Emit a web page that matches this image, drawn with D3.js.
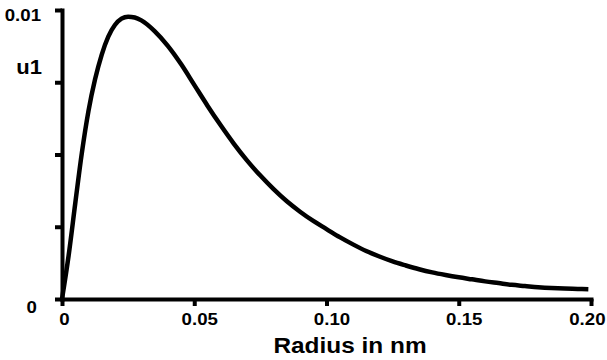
<!DOCTYPE html>
<html>
<head>
<meta charset="utf-8">
<script src="https://cdn.jsdelivr.net/npm/d3@7/dist/d3.min.js"></script>
<style>
  html, body { margin: 0; padding: 0; background: #fff; }
  svg { display: block; }
  text { font-family: "Liberation Sans", Arial, Helvetica, sans-serif; font-weight: bold; fill: #000; }
</style>
</head>
<body>
<svg id="chart" width="607" height="360"></svg>
<script>
// Data
const radius = [0, 0.0025, 0.005, 0.0075, 0.01, 0.0125, 0.015, 0.0175, 0.02, 0.0225, 0.025, 0.0275, 0.03, 0.035, 0.04, 0.045,
  0.05, 0.055, 0.06, 0.065, 0.07, 0.075, 0.08, 0.085, 0.09, 0.095,
  0.10, 0.105, 0.11, 0.115, 0.12, 0.125, 0.13, 0.135, 0.14, 0.145,
  0.15, 0.155, 0.16, 0.165, 0.17, 0.175, 0.18, 0.185, 0.19, 0.195, 0.199];
const u1 = [0, 0.00150, 0.00330, 0.00505, 0.00650, 0.00760, 0.00845, 0.00908, 0.00948, 0.00970, 0.00977, 0.00974, 0.00964, 0.00927, 0.00876, 0.00813,
  0.00741, 0.00669, 0.00601, 0.00537, 0.00479, 0.00427, 0.00380, 0.00338, 0.00302, 0.00270,
  0.00242, 0.00214, 0.00189, 0.00166, 0.00147, 0.00130, 0.00116, 0.00103, 0.00092, 0.00083,
  0.00075, 0.00068, 0.00061, 0.00055, 0.00049, 0.00045, 0.00041, 0.00038, 0.00036, 0.00035, 0.00034];
const xTicks = [0, 0.05, 0.10, 0.15, 0.20];
const xTickLabels = ["0", "0.05", "0.10", "0.15", "0.20"];
const yTicks = [0, 0.0025, 0.005, 0.0075, 0.01];
const yTickLabels = ["0", "", "", "", "0.01"];
const xTitle = "Radius in nm";
const yTitle = "u1";

const svg = d3.select("#chart");
svg.append("rect").attr("width", 607).attr("height", 360).attr("fill", "#fff");

const x = d3.scaleLinear().domain([0, 0.2]).range([62, 591]);
const y = d3.scaleLinear().domain([0, 0.01]).range([299, 10]);
const SX = 1.13; // horizontal stretch of the reference's bold font

// X axis
const gx = svg.append("g").attr("transform", `translate(0,${y(0)})`)
  .call(d3.axisBottom(x).tickValues(xTicks).tickSize(7).tickSizeOuter(0)
    .tickFormat((d, i) => xTickLabels[i]));
gx.select(".domain").attr("stroke-width", 4).attr("stroke-linecap", "square");
gx.selectAll(".tick line").attr("stroke-width", 4);
gx.selectAll(".tick text")
  .attr("y", 0).attr("dy", 0).attr("font-size", 16.5)
  .attr("text-anchor", (d, i) => i === xTicks.length - 1 ? "end" : "middle")
  .attr("transform", (d, i) => `translate(${i === xTicks.length - 1 ? 14 : (i === 0 ? 2 : 5)},26) scale(${SX},1)`);

// Y axis
const gy = svg.append("g").attr("transform", `translate(${x(0)},0)`)
  .call(d3.axisLeft(y).tickValues(yTicks).tickSize(7).tickSizeOuter(0)
    .tickFormat((d, i) => yTickLabels[i]));
gy.select(".domain").attr("stroke-width", 4).attr("stroke-linecap", "square");
gy.selectAll(".tick line").attr("stroke-width", 4);
gy.selectAll(".tick text")
  .attr("x", 0).attr("dy", 0).attr("font-size", 16.5).attr("text-anchor", "end")
  .attr("transform", (d, i) => i === 0 ? `translate(-25,13) scale(${SX},1)` : `translate(-21,10.5) scale(${SX},1)`);
svg.selectAll(".domain, .tick line").attr("stroke", "#000");

// Titles
svg.append("text").attr("text-anchor", "end").attr("font-size", 19.5)
  .attr("transform", `translate(42,74) scale(${SX},1)`).text(yTitle);
svg.append("text").attr("text-anchor", "middle").attr("font-size", 21.6)
  .attr("transform", `translate(350,353) scale(${SX},1)`).text(xTitle);

// Curve
const data = radius.map((r, i) => [r, u1[i]]);
svg.append("path").datum(data)
  .attr("fill", "none").attr("stroke", "#000").attr("stroke-width", 4.5)
  .attr("stroke-linejoin", "round")
  .attr("d", d3.line().curve(d3.curveMonotoneX).x(d => x(d[0])).y(d => y(d[1])));
</script>
</body>
</html>
